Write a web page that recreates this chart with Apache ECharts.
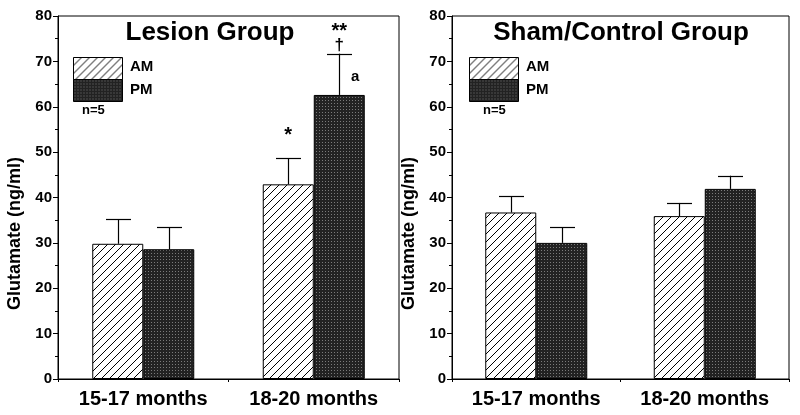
<!DOCTYPE html>
<html>
<head>
<meta charset="utf-8">
<script src="https://cdn.jsdelivr.net/npm/echarts@6/dist/echarts.min.js"></script>
<style>
html,body{margin:0;padding:0;background:#fff;}
#chart{width:800px;height:415px;}
</style>
</head>
<body>
<div id="chart"></div>
<script>
// ---- data ----
const categories = ['15-17 months', '18-20 months'];
const panelTitles = ['Lesion Group', 'Sham/Control Group'];
const seriesNames = ['AM', 'PM'];
const yTicks = [0, 10, 20, 30, 40, 50, 60, 70, 80];
const yAxisTitle = 'Glutamate (ng/ml)';
const sampleNote = 'n=5';

// Lesion group
const lesionAM = [29.8, 42.9];
const lesionAMErrTop = [35.2, 48.6];
const lesionPM = [28.6, 62.6];
const lesionPMErrTop = [33.5, 71.7];

// Sham/Control group
const shamAM = [36.7, 35.9];
const shamAMErrTop = [40.3, 38.8];
const shamPM = [30.0, 41.9];
const shamPMErrTop = [33.5, 44.8];

// significance marks in lesion panel: [categoryIndex, seriesIndex(0=AM,1=PM), yValue, text]
const lesionMarks = [
  [1, 0, 53.6, '*'],
  [1, 1, 76.6, '**'],
  [1, 1, 73.6, '\u2020'],
  [1, 1, 66.5, 'a']
];

// ---- patterns ----
function hatchPattern() {
  const c = document.createElement('canvas');
  const s = 8;
  c.width = s; c.height = s;
  const g = c.getContext('2d');
  g.fillStyle = '#fff'; g.fillRect(0, 0, s, s);
  g.strokeStyle = '#000'; g.lineWidth = 1;
  g.beginPath();
  g.moveTo(-1, s + 1); g.lineTo(s + 1, -1);
  g.moveTo(-1 - s, s + 1); g.lineTo(1, -1);
  g.moveTo(s - 1, 2 * s + 1); g.lineTo(2 * s + 1, s - 1);
  g.stroke();
  return c;
}
function dotPattern() {
  const c = document.createElement('canvas');
  c.width = 3; c.height = 3;
  const g = c.getContext('2d');
  g.fillStyle = '#222'; g.fillRect(0, 0, 3, 3);
  g.fillStyle = '#7a7a7a'; g.fillRect(1, 1, 1, 1);
  return c;
}
const hatch = { image: hatchPattern(), repeat: 'repeat' };
const dots = { image: dotPattern(), repeat: 'repeat' };

const FONT = 'Liberation Sans, Arial, sans-serif';
const BAR_W = 51;

const grids = [
  { left: 58, right: 401, top: 16, bottom: 36, show: true, borderColor: '#000', borderWidth: 1, backgroundColor: 'transparent' },
  { left: 452, right: 11, top: 16, bottom: 36, show: true, borderColor: '#000', borderWidth: 1, backgroundColor: 'transparent' }
];

function xAxis(gi) {
  return {
    type: 'category', gridIndex: gi, data: categories,
    axisLine: { lineStyle: { color: '#000', width: 1 } },
    axisTick: { show: true, length: 3, lineStyle: { color: '#000' } },
    axisLabel: { color: '#000', fontFamily: FONT, fontWeight: 'bold', fontSize: 20, margin: 10 }
  };
}
function yAxis(gi) {
  return {
    type: 'value', gridIndex: gi, min: yTicks[0], max: yTicks[yTicks.length - 1], interval: 10,
    name: yAxisTitle, nameLocation: 'middle', nameGap: 34, nameRotate: 90,
    nameTextStyle: { color: '#000', fontFamily: FONT, fontWeight: 'bold', fontSize: 18, padding: [0, 72, 0, 0] },
    axisLine: { show: true, lineStyle: { color: '#000', width: 1 } },
    axisTick: { show: true, length: 5, lineStyle: { color: '#000' } },
    minorTick: { show: true, splitNumber: 2, length: 3, lineStyle: { color: '#000' } },
    splitLine: { show: false },
    axisLabel: { color: '#000', fontFamily: FONT, fontWeight: 'bold', fontSize: 15, margin: 6 }
  };
}

function barSeries(gi, name, data, fill) {
  return {
    type: 'bar', name: name, xAxisIndex: gi, yAxisIndex: gi, data: data,
    barWidth: BAR_W, barGap: '0%',
    itemStyle: { color: fill, borderColor: '#000', borderWidth: 1 },
    silent: true, z: 2
  };
}

function errSeries(gi, means, tops, sIdx) {
  const data = means.map((m, i) => [i, m, tops[i]]);
  const off = sIdx === 0 ? -BAR_W / 2 : BAR_W / 2;
  return {
    type: 'custom', xAxisIndex: gi, yAxisIndex: gi, data: data, silent: true, z: 3,
    renderItem: function (params, api) {
      const p0 = api.coord([api.value(0), api.value(1)]);
      const p1 = api.coord([api.value(0), api.value(2)]);
      const x = Math.round(p0[0] + off) + 0.5;
      const half = 12.5;
      return {
        type: 'group',
        children: [
          { type: 'line', shape: { x1: x, y1: p0[1], x2: x, y2: p1[1] }, style: { stroke: '#000', lineWidth: 1.2 } },
          { type: 'line', shape: { x1: x - half, y1: Math.round(p1[1]) + 0.5, x2: x + half, y2: Math.round(p1[1]) + 0.5 }, style: { stroke: '#000', lineWidth: 1.2 } }
        ]
      };
    }
  };
}

function markSeries(gi, marks) {
  return {
    type: 'custom', xAxisIndex: gi, yAxisIndex: gi, data: marks, silent: true, z: 4,
    renderItem: function (params, api) {
      const m = marks[params.dataIndex];
      const p = api.coord([m[0], m[2]]);
      let off = m[1] === 0 ? -BAR_W / 2 : BAR_W / 2;
      if (m[3] === 'a') off += 16;
      const big = m[3].indexOf('*') >= 0;
      const size = big ? 20 : (m[3] === 'a' ? 15 : 17);
      return {
        type: 'text',
        style: {
          x: p[0] + off, y: p[1], text: m[3],
          fill: '#000', font: 'bold ' + size + 'px ' + FONT,
          textAlign: 'center', textVerticalAlign: 'middle'
        }
      };
    }
  };
}

function legendGraphics(boxLeft, textLeft, noteLeft) {
  return [
    { type: 'rect', left: boxLeft, top: 57, shape: { width: 49, height: 22 }, style: { fill: hatch, stroke: '#000', lineWidth: 1 }, z: 10 },
    { type: 'rect', left: boxLeft, top: 79, shape: { width: 49, height: 22 }, style: { fill: dots, stroke: '#000', lineWidth: 1 }, z: 10 },
    { type: 'text', left: textLeft, top: 59, style: { text: seriesNames[0], fill: '#000', font: 'bold 15px ' + FONT }, z: 10 },
    { type: 'text', left: textLeft, top: 82, style: { text: seriesNames[1], fill: '#000', font: 'bold 15px ' + FONT }, z: 10 },
    { type: 'text', left: noteLeft, top: 104, style: { text: sampleNote, fill: '#000', font: 'bold 13px ' + FONT }, z: 10 }
  ];
}

const option = {
  animation: false,
  backgroundColor: '#fff',
  title: [
    { text: panelTitles[0], left: 205, top: 15, textAlign: 'center', textStyle: { color: '#000', fontFamily: FONT, fontWeight: 'bold', fontSize: 26 } },
    { text: panelTitles[1], left: 616, top: 15, textAlign: 'center', textStyle: { color: '#000', fontFamily: FONT, fontWeight: 'bold', fontSize: 26 } }
  ],
  grid: grids,
  xAxis: [xAxis(0), xAxis(1)],
  yAxis: [yAxis(0), yAxis(1)],
  graphic: legendGraphics(73, 130, 82).concat(legendGraphics(469, 526, 483)),
  series: [
    barSeries(0, seriesNames[0], lesionAM, hatch),
    barSeries(0, seriesNames[1], lesionPM, dots),
    errSeries(0, lesionAM, lesionAMErrTop, 0),
    errSeries(0, lesionPM, lesionPMErrTop, 1),
    markSeries(0, lesionMarks),
    barSeries(1, seriesNames[0], shamAM, hatch),
    barSeries(1, seriesNames[1], shamPM, dots),
    errSeries(1, shamAM, shamAMErrTop, 0),
    errSeries(1, shamPM, shamPMErrTop, 1)
  ]
};

const chart = echarts.init(document.getElementById('chart'), null, { renderer: 'canvas' });
chart.setOption(option);
</script>
</body>
</html>
